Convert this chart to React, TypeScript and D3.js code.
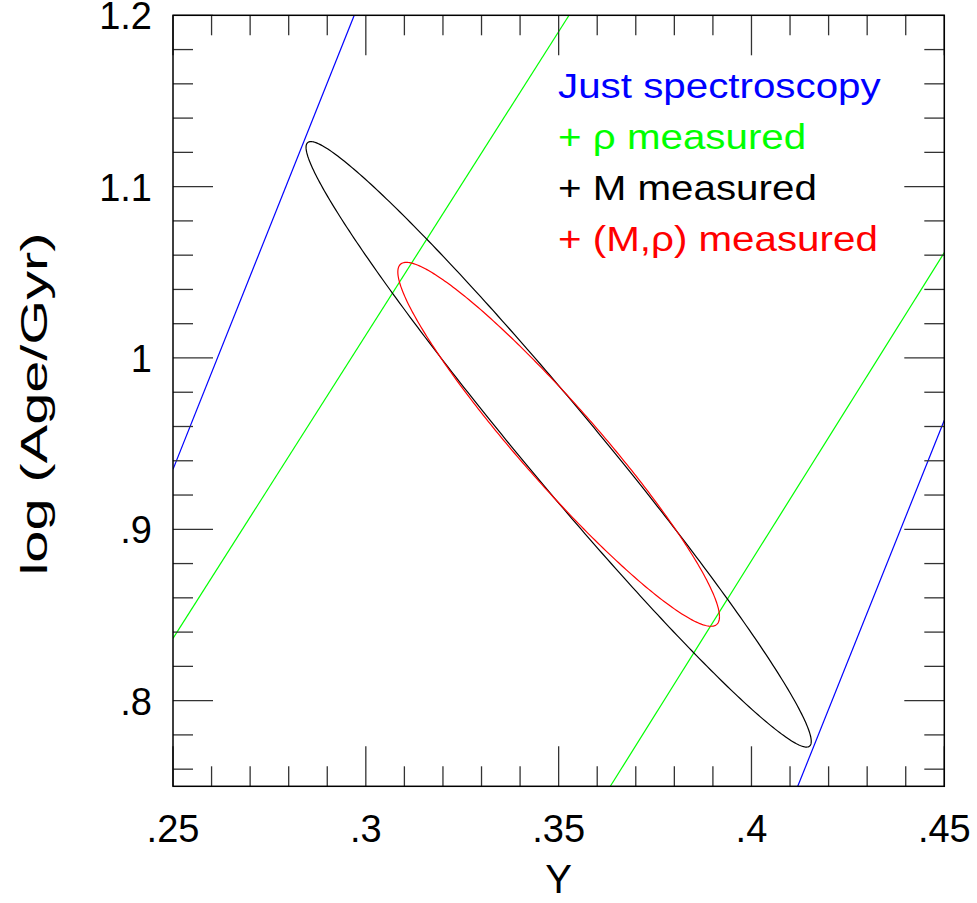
import * as d3 from "d3";

// axis ticks and labels
const xMajor = [0.25, 0.3, 0.35, 0.4, 0.45];
const xMajorLabels = [".25", ".3", ".35", ".4", ".45"];
const xMinor = [0.26, 0.27, 0.28, 0.29, 0.31, 0.32, 0.33, 0.34, 0.36, 0.37, 0.38, 0.39, 0.41, 0.42, 0.43, 0.44];
const yMajor = [0.8, 0.9, 1.0, 1.1, 1.2];
const yMajorLabels = [".8", ".9", "1", "1.1", "1.2"];
const yMinor = [0.76, 0.78, 0.82, 0.84, 0.86, 0.88, 0.92, 0.94, 0.96, 0.98, 1.02, 1.04, 1.06, 1.08, 1.12, 1.14, 1.16, 1.18];

// constraint bands (pairs of straight lines, endpoints in Y / log age)
const blueLines = [
  [[0.25, 0.935], [0.297, 1.2]],
  [[0.412, 0.75], [0.45, 0.9637]],
];
const greenLines = [
  [[0.25, 0.8363], [0.3527, 1.2]],
  [[0.3634, 0.75], [0.45, 1.0615]],
];

// error ellipses: [centerY, centerLogAge, sigmaY, sigmaLogAge, correlation]
const blackEllipse = [0.35, 0.9496, 0.0655, 0.1767, -0.981];
const redEllipse = [0.35, 0.9496, 0.0417, 0.1062, -0.947];

const legend = [
  { text: "Just spectroscopy", color: "#0000ff" },
  { text: "+ ρ measured", color: "#00ff00" },
  { text: "+ M measured", color: "#000000" },
  { text: "+ (M,ρ) measured", color: "#ff0000" },
];

const W = 977;
const H = 903;
const left = 173;
const right = 944.3;
const top = 15.3;
const bottom = 786.3;

const x = d3.scaleLinear().domain([0.25, 0.45]).range([left, right]);
const y = d3.scaleLinear().domain([0.75, 1.2]).range([bottom, top]);

const line = d3
  .line<number[]>()
  .x((d) => x(d[0]))
  .y((d) => y(d[1]));

function ellipsePoints(e: number[]) {
  const [cx, cy, sx, sy, r] = e;
  const n = 360;
  return d3.range(n + 1).map((i) => {
    const t = (i / n) * 2 * Math.PI;
    return [cx + sx * Math.cos(t), cy + sy * (r * Math.cos(t) + Math.sqrt(1 - r * r) * Math.sin(t))];
  });
}

const font = "Liberation Sans, Arial, Helvetica, sans-serif";

function App() {
  return (
    <svg width={W} height={H} style={{ position: "absolute", left: 0, top: 0 }} fontFamily={font}>
      <defs>
        <clipPath id="plot">
          <rect x={left} y={top} width={right - left} height={bottom - top} />
        </clipPath>
      </defs>
      <g clipPath="url(#plot)" fill="none" strokeWidth={1.2}>
        {blueLines.map((l, i) => (
          <path key={"b" + i} d={line(l) ?? ""} stroke="#0000ff" />
        ))}
        {greenLines.map((l, i) => (
          <path key={"g" + i} d={line(l) ?? ""} stroke="#00ff00" />
        ))}
        <path d={line(ellipsePoints(blackEllipse)) ?? ""} stroke="#000" />
        <path d={line(ellipsePoints(redEllipse)) ?? ""} stroke="#ff0000" />
      </g>

      {/* ticks on all four sides */}
      <g stroke="#333" strokeWidth={1.3}>
        {xMinor.map((v) => (
          <g key={"xm" + v}>
            <line x1={x(v)} x2={x(v)} y1={bottom} y2={bottom - 20} />
            <line x1={x(v)} x2={x(v)} y1={top} y2={top + 20} />
          </g>
        ))}
        {xMajor.map((v) => (
          <g key={"xM" + v}>
            <line x1={x(v)} x2={x(v)} y1={bottom} y2={bottom - 40} />
            <line x1={x(v)} x2={x(v)} y1={top} y2={top + 40} />
          </g>
        ))}
        {yMinor.map((v) => (
          <g key={"ym" + v}>
            <line x1={left} x2={left + 20} y1={y(v)} y2={y(v)} />
            <line x1={right} x2={right - 20} y1={y(v)} y2={y(v)} />
          </g>
        ))}
        {yMajor.map((v) => (
          <g key={"yM" + v}>
            <line x1={left} x2={left + 40} y1={y(v)} y2={y(v)} />
            <line x1={right} x2={right - 40} y1={y(v)} y2={y(v)} />
          </g>
        ))}
      </g>
      <rect x={left} y={top} width={right - left} height={bottom - top} fill="none" stroke="#000" strokeWidth={1.5} />

      <g fontSize={38} fill="#000">
        {xMajor.map((v, i) => (
          <text key={"xl" + v} x={x(v)} y={842} textAnchor="middle">
            {xMajorLabels[i]}
          </text>
        ))}
        {yMajor.map((v, i) => (
          <text key={"yl" + v} x={152} y={y(v) + 14} textAnchor="end">
            {yMajorLabels[i]}
          </text>
        ))}
        <text x={x(0.35)} y={893} textAnchor="middle" fontSize={40}>
          Y
        </text>
        <text
          transform={`translate(47,404) rotate(-90)`}
          textAnchor="middle"
          fontSize={37}
          textLength={343}
          lengthAdjust="spacingAndGlyphs"
        >
          log (Age/Gyr)
        </text>
      </g>

      <g fontSize={36}>
        {legend.map((d, i) => (
          <text key={d.text} transform={`translate(558,${98 + i * 51}) scale(1.12,1)`} fill={d.color}>
            {d.text}
          </text>
        ))}
      </g>
    </svg>
  );
}

export default App;
